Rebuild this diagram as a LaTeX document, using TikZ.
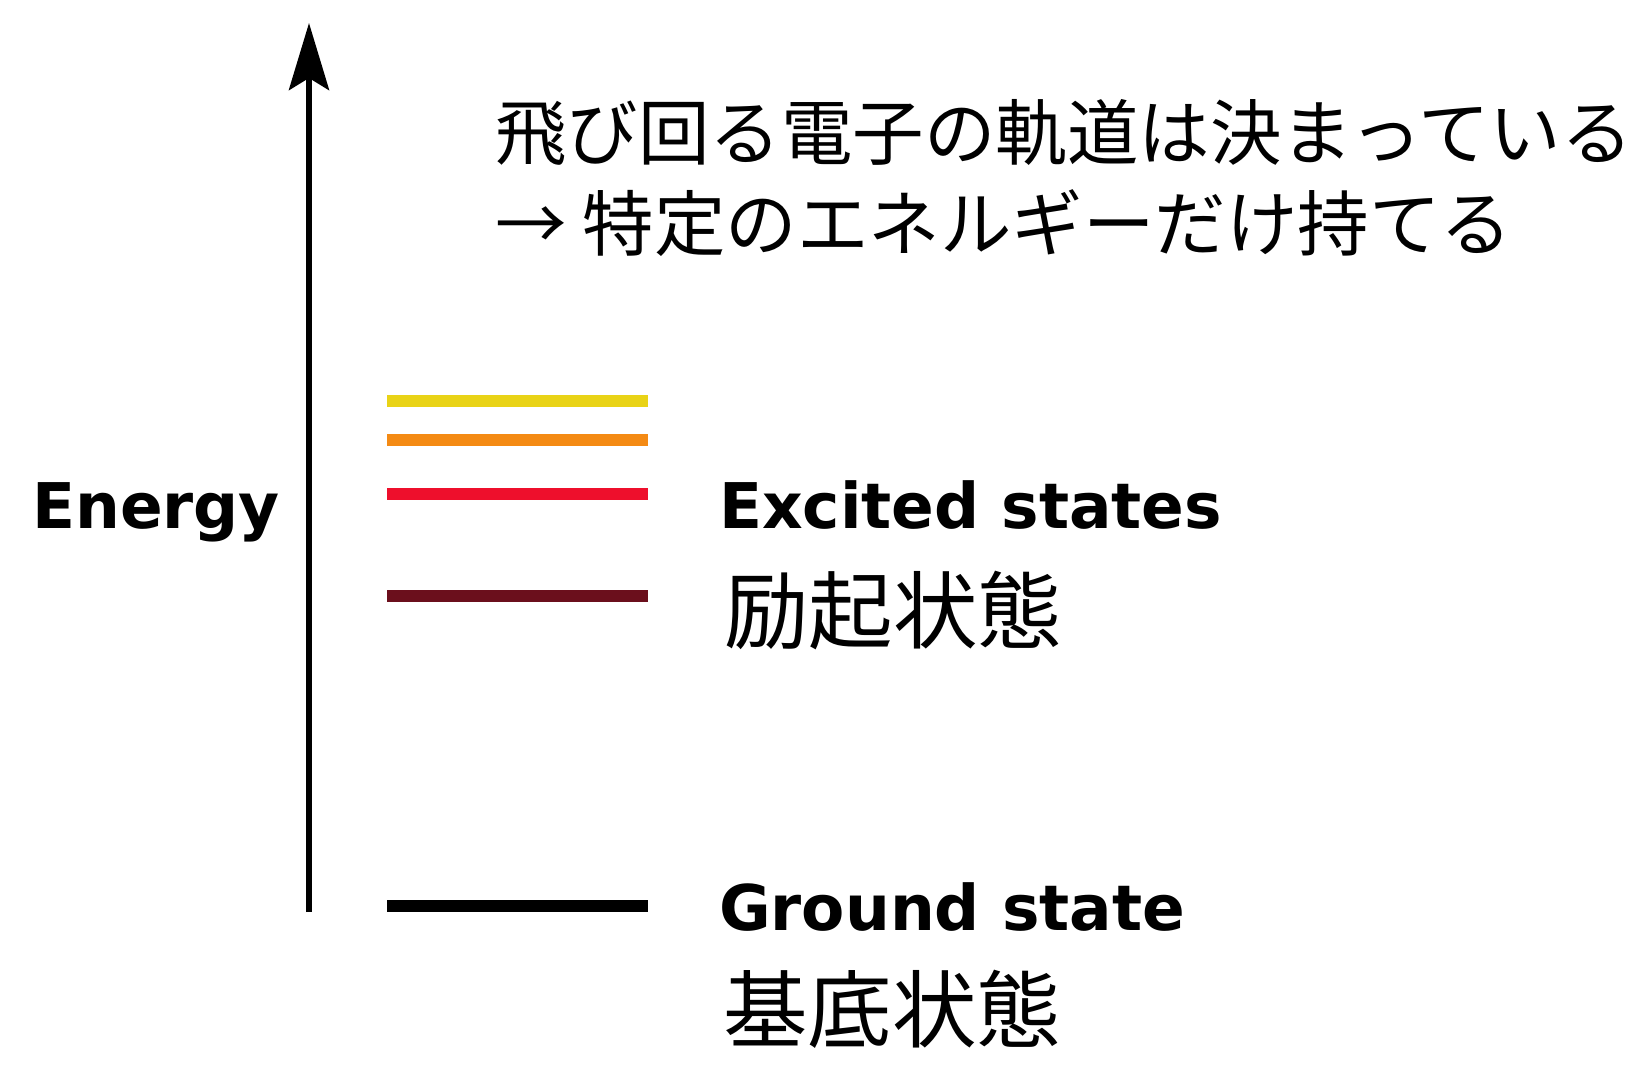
\documentclass[tikz,border=0pt]{standalone}
\usepackage{fontspec}
\newfontfamily\dvsans{DejaVu Sans}
\newfontfamily\jpfont{Noto Sans CJK JP}
\usetikzlibrary{arrows.meta}
\definecolor{lvyellow}{HTML}{E9D316}
\definecolor{lvorange}{HTML}{F48A14}
\definecolor{lvred}{HTML}{EE0F2C}
\definecolor{lvdark}{HTML}{6B0F1C}
\tikzset{
  entext/.style={inner sep=0pt, anchor=base west, font=\dvsans\bfseries\fontsize{63}{70}\selectfont},
  jpbig/.style={inner sep=0pt, anchor=base west, font=\jpfont\fontsize{84.5}{96}\selectfont},
  jptop/.style={inner sep=0pt, anchor=base west, font=\jpfont\fontsize{71.5}{80}\selectfont},
  level/.style={line width=12pt},
  axis/.style={line width=6pt, -{Stealth[length=67pt, width=40pt, inset=12pt]}}
}
\begin{document}
\begin{tikzpicture}[x=1pt, y=-1pt]
\useasboundingbox (0,0) rectangle (1633,1070);
% axis
\coordinate (axb) at (309,912);
\coordinate (axt) at (309,23);
\draw[axis] (axb) -- (axt);
% levels
\coordinate (l1a) at (387,401); \coordinate (l1b) at (648,401);
\coordinate (l2a) at (387,440); \coordinate (l2b) at (648,440);
\coordinate (l3a) at (387,494); \coordinate (l3b) at (648,494);
\coordinate (l4a) at (387,596); \coordinate (l4b) at (648,596);
\coordinate (l0a) at (387,906); \coordinate (l0b) at (648,906);
\draw[level, lvyellow] (l1a) -- (l1b);
\draw[level, lvorange] (l2a) -- (l2b);
\draw[level, lvred] (l3a) -- (l3b);
\draw[level, lvdark] (l4a) -- (l4b);
\draw[level, black] (l0a) -- (l0b);
% texts
\node[entext] (energy) at (32,528) {Energy};
\node[entext] (exc) at (719,528) {Excited states};
\node[jpbig] (excjp) at (724,642) {励起状態};
\node[entext] (gnd) at (719,930) {Ground state};
\node[jpbig] (gndjp) at (723,1041) {基底状態};
\node[jptop] (line1) at (495,160) {飛び回る電子の軌道は決まっている};
\node[jptop] (line2) at (495,250) {→ 特定のエネルギーだけ持てる};
\end{tikzpicture}
\end{document}
